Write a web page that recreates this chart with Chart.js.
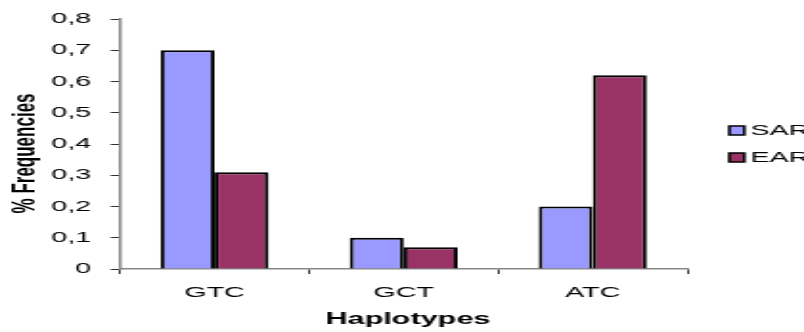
<!DOCTYPE html>
<html>
<head>
<meta charset="utf-8">
<script src="https://cdn.jsdelivr.net/npm/chart.js@4/dist/chart.umd.min.js"></script>
<style>
  html, body { margin: 0; padding: 0; background: #fff; overflow: hidden; }
  /* the original picture is stretched sideways, so draw narrow and stretch */
  #caja {
    width: 420px;
    height: 332px;
    transform: scaleX(1.9143);
    transform-origin: 0 0;
  }
</style>
</head>
<body>
<div id="caja"><canvas id="grafico"></canvas></div>
<script>
// datos
const categorias = ["GTC", "GCT", "ATC"];
const nombresSeries = ["SAR", "EAR"];
const valoresSAR = [0.7, 0.1, 0.2];
const valoresEAR = [0.31, 0.07, 0.62];
const coloresSeries = ["#9999FF", "#993366"];

const fuente = "'Liberation Sans', Arial, sans-serif";

// leyenda dibujada a mano a la derecha
const leyendaManual = {
  id: "leyendaManual",
  afterDraw(chart) {
    const ctx = chart.ctx;
    ctx.save();
    chart.data.datasets.forEach((ds, i) => {
      const y = 130.5 + i * 27;
      ctx.fillStyle = ds.backgroundColor;
      ctx.fillRect(381, y - 4.5, 7.8, 9);
      ctx.lineWidth = 1.5;
      ctx.strokeStyle = "#000";
      ctx.strokeRect(381, y - 4.5, 7.8, 9);
      ctx.fillStyle = "#000";
      ctx.font = "15px " + fuente;
      ctx.textBaseline = "middle";
      ctx.textAlign = "left";
      ctx.fillText(ds.label, 392, y);
    });
    ctx.restore();
  },
};

const config = {
  type: "bar",
  data: {
    labels: categorias,
    datasets: [
      {
        label: nombresSeries[0],
        data: valoresSAR,
        backgroundColor: coloresSeries[0],
        borderColor: "#000",
        borderWidth: 2,
      },
      {
        label: nombresSeries[1],
        data: valoresEAR,
        backgroundColor: coloresSeries[1],
        borderColor: "#000",
        borderWidth: 2,
      },
    ],
  },
  options: {
    responsive: true,
    maintainAspectRatio: false,
    animation: false,
    layout: { padding: { top: 17, right: 61, left: 0, bottom: 0 } },
    datasets: {
      bar: { categoryPercentage: 0.571, barPercentage: 1 },
    },
    plugins: {
      legend: { display: false },
      tooltip: { enabled: false },
    },
    scales: {
      x: {
        grid: {
          display: true,
          drawOnChartArea: false,
          tickLength: 5,
          color: "#333",
        },
        border: { color: "#888", width: 1.5 },
        ticks: {
          color: "#000",
          font: { family: fuente, size: 15 },
          padding: 10,
          maxRotation: 0,
        },
        title: {
          display: true,
          text: " Haplotypes",
          color: "#000",
          font: { family: fuente, size: 16, weight: "bold" },
          padding: { top: 0, bottom: 3 },
        },
        afterFit(scale) {
          scale.height = 63;
        },
      },
      y: {
        min: 0,
        max: 0.8,
        grid: {
          display: true,
          drawOnChartArea: false,
          tickLength: 5,
          color: "#333",
        },
        border: { color: "#888", width: 1.5 },
        ticks: {
          stepSize: 0.1,
          color: "#000",
          padding: 10,
          font: { family: fuente, size: 15 },
          callback: (v) => (v === 0 ? "0" : v.toFixed(1).replace(".", ",")),
        },
        title: {
          display: true,
          // espacios al final para bajar un poco el titulo, como en el original
          text: "% Frequencies    ",
          color: "#000",
          font: { family: fuente, size: 17, weight: "bold" },
          padding: { top: 3, bottom: 0 },
        },
        afterFit(scale) {
          scale.width = 62.7;
        },
      },
    },
  },
  plugins: [leyendaManual],
};

new Chart(document.getElementById("grafico"), config);
</script>
</body>
</html>
